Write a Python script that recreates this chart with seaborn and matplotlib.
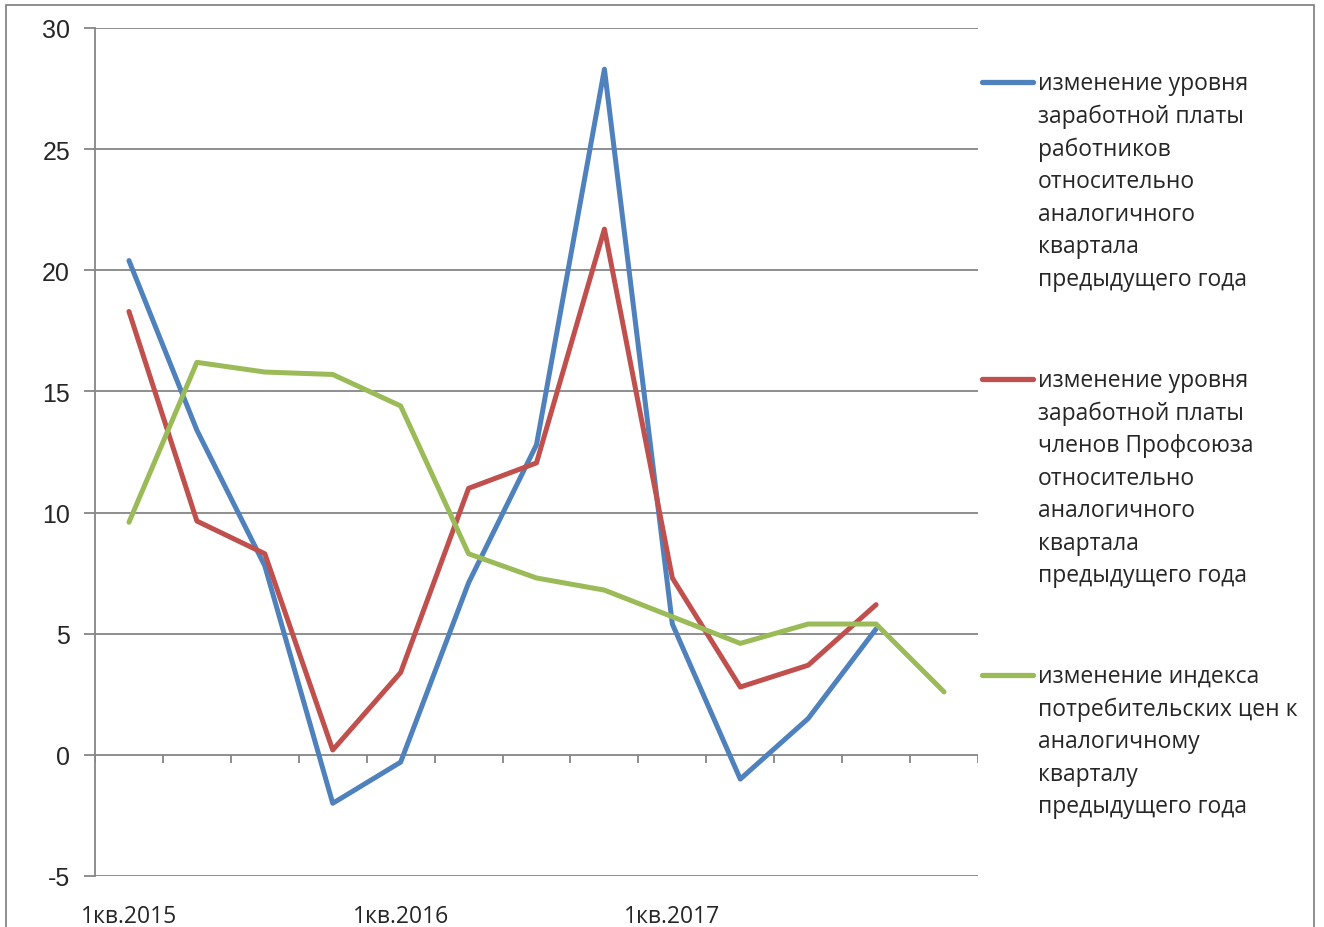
import matplotlib.pyplot as plt
import seaborn as sns
import pandas as pd
import numpy as np
from matplotlib.lines import Line2D
from matplotlib.patches import Rectangle

# квартальные категории (подписаны только первые кварталы)
quarters = ['1кв.2015', '2кв.2015', '3кв.2015', '4кв.2015',
            '1кв.2016', '2кв.2016', '3кв.2016', '4кв.2016',
            '1кв.2017', '2кв.2017', '3кв.2017', '4кв.2017',
            '1кв.2018']
tick_labels = ['1кв.2015', '', '', '', '1кв.2016', '', '', '',
               '1кв.2017', '', '', '', '']

# изменение уровня з/п работников
wages_all = [20.4, 13.4, 7.8, -2.0, -0.3, 7.1, 12.8, 28.3, 5.4, -1.0, 1.5, 5.2, np.nan]
# изменение уровня з/п членов Профсоюза
wages_union = [18.3, 9.65, 8.3, 0.2, 3.4, 11.0, 12.05, 21.7, 7.3, 2.8, 3.7, 6.2, np.nan]
# изменение ИПЦ
cpi = [9.6, 16.2, 15.8, 15.7, 14.4, 8.3, 7.3, 6.8, 5.7, 4.6, 5.4, 5.4, 2.6]

series_names = [
    'изменение уровня\nзаработной платы\nработников\nотносительно\nаналогичного\nквартала\nпредыдущего года',
    'изменение уровня\nзаработной платы\nчленов Профсоюза\nотносительно\nаналогичного\nквартала\nпредыдущего года',
    'изменение индекса\nпотребительских цен к\nаналогичному\nкварталу\nпредыдущего года',
]
colors = ['#4F81BD', '#C0504D', '#9BBB59']

df = pd.DataFrame({
    'idx': list(range(len(quarters))) * 3,
    'value': wages_all + wages_union + cpi,
    'series': [series_names[0]] * len(quarters) + [series_names[1]] * len(quarters)
              + [series_names[2]] * len(quarters),
})

sns.set_style('white')
plt.rcParams['font.family'] = ['Open Sans', 'DejaVu Sans']

fig = plt.figure(figsize=(13.24, 9.28), dpi=100)
ax = fig.add_axes([95 / 1324, 1 - 877 / 928, (978 - 95) / 1324, (877 - 29) / 928])

grid_c = '#868686'
for y in range(-5, 31, 5):
    ax.axhline(y, color=grid_c, lw=1.3, zorder=1)

# засечки на нулевой линии
ax.vlines(np.arange(-0.5, len(quarters)), -0.33, 0, color=grid_c, lw=1.3, zorder=1)

sns.lineplot(data=df, x='idx', y='value', hue='series', palette=colors,
             hue_order=series_names, linewidth=3.6, ax=ax, legend=False, zorder=3)

ax.set_xlim(-0.5, len(quarters) - 0.5)
ax.set_ylim(-5, 30)
ax.set_yticks(range(-5, 31, 5))
ax.set_yticklabels([str(v) for v in range(-5, 31, 5)], family='Liberation Sans', fontsize=18)
ax.tick_params(axis='y', length=8, width=1.3, color=grid_c, pad=10, direction='out', left=True)
ax.set_xticks(range(len(quarters)))
ax.set_xticklabels(tick_labels, fontsize=16.5)
ax.tick_params(axis='x', length=0, pad=20)
ax.set_xlabel('')
ax.set_ylabel('')
for s in ['top', 'right', 'bottom']:
    ax.spines[s].set_visible(False)
ax.spines['left'].set_color(grid_c)
ax.spines['left'].set_linewidth(1.3)

# легенда справа
H = 928
first_lines = [83, 380, 676]
for name, c, y0 in zip(series_names, colors, first_lines):
    fig.add_artist(Line2D([982 / 1324, 1033 / 1324], [1 - y0 / H, 1 - y0 / H],
                          color=c, lw=3.8, solid_capstyle='round'))
    fig.text(1038 / 1324, 1 - (y0 - 11) / H, name, fontsize=16.5, va='top', ha='left',
             linespacing=1.47)

# рамка диаграммы
fig.add_artist(Rectangle((6 / 1324, -0.05), (1314 - 6) / 1324, 1.05 - 6 / 928,
                         fill=False, edgecolor=grid_c, lw=1.3, transform=fig.transFigure))

fig.savefig('out.png', dpi=100)
